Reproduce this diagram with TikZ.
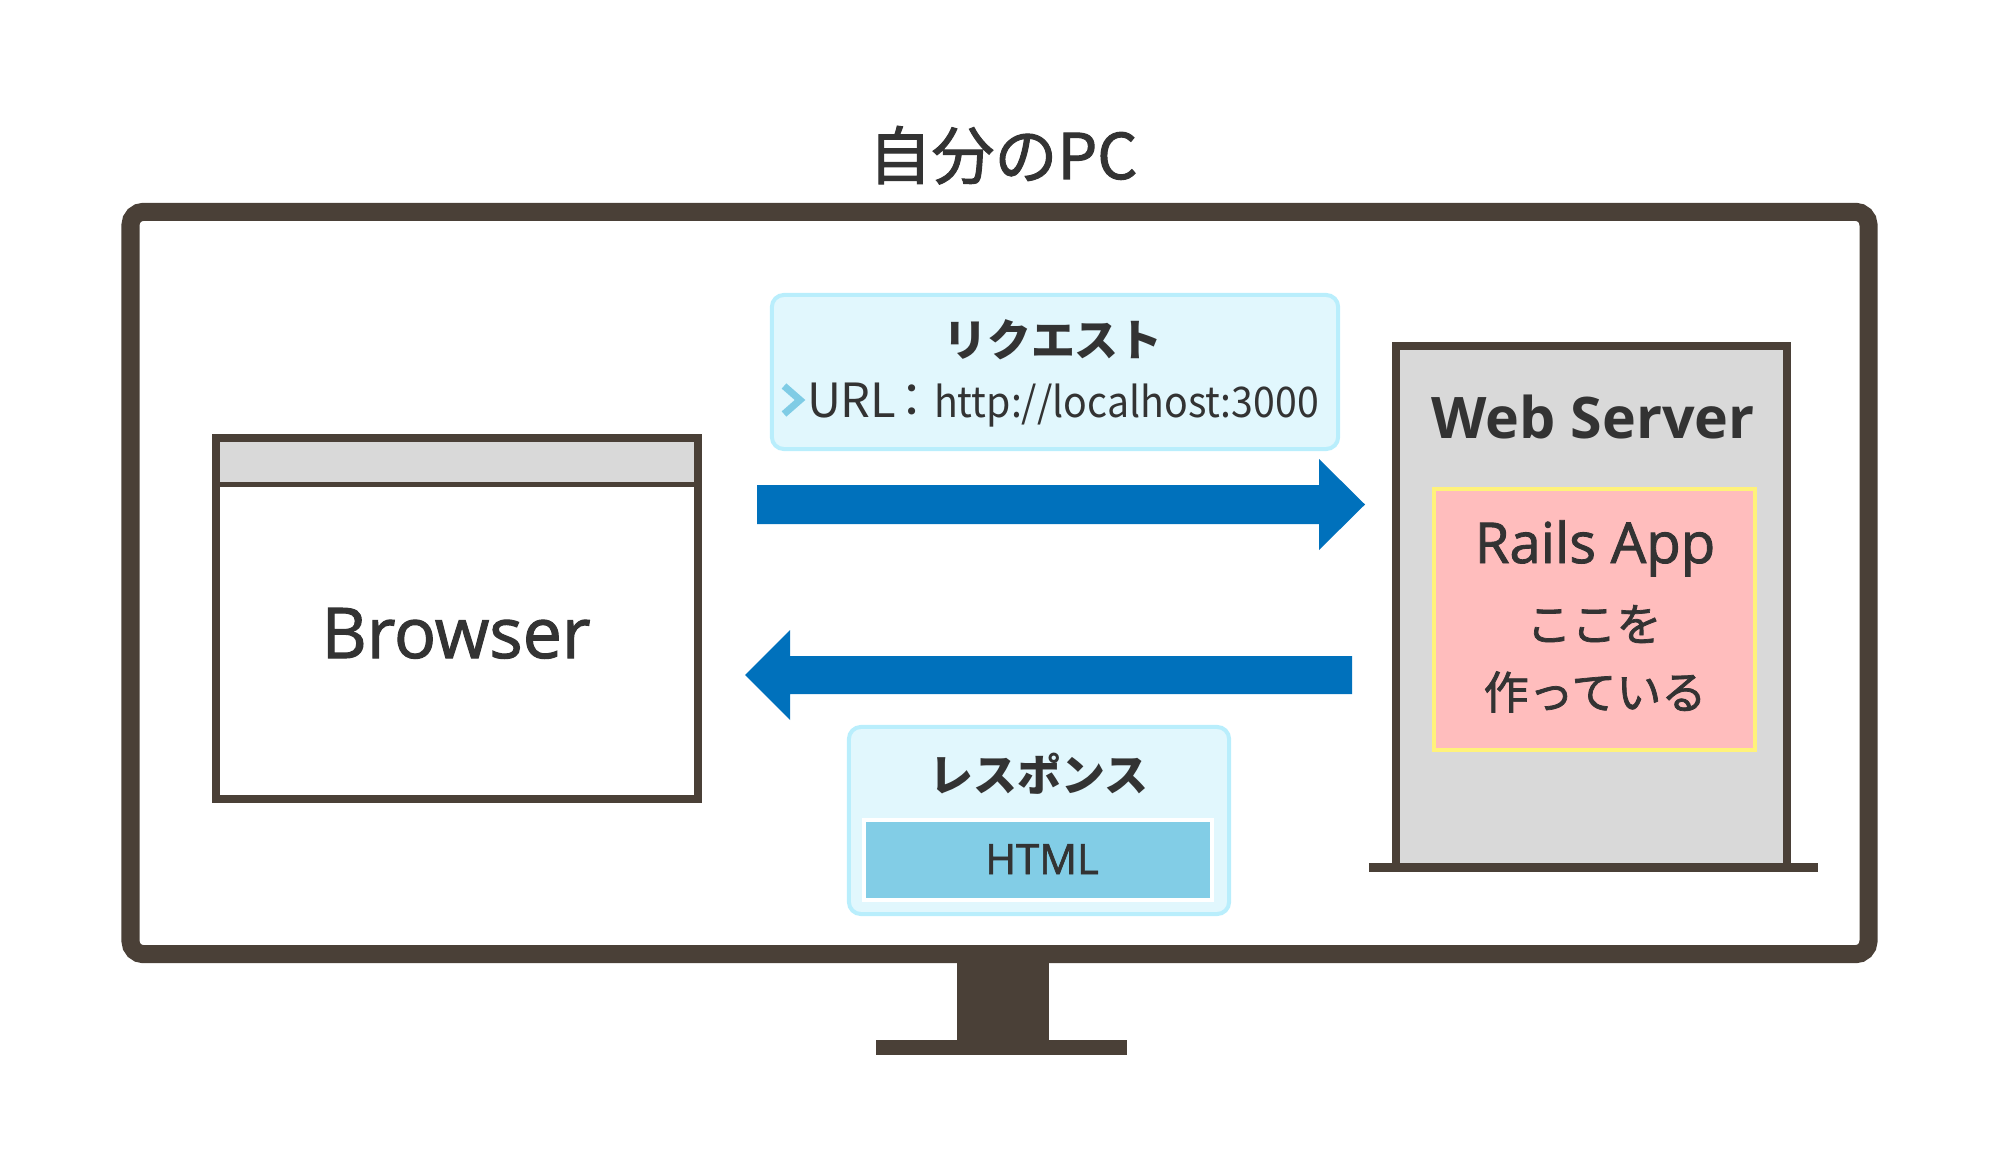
\documentclass[tikz,border=0pt]{standalone}
\usepackage{fontspec}
\setmainfont{Noto Sans CJK JP}
\newfontfamily\jpmedium[FakeBold=1.6]{Noto Sans CJK JP}
\newfontfamily\latinfont[FakeBold=1.6]{Open Sans}
\newfontfamily\latinbold{Open Sans}[BoldFont={* Bold}]
\usetikzlibrary{positioning}

\definecolor{frame}{HTML}{4A4037}
\definecolor{ink}{HTML}{333333}
\definecolor{flow}{HTML}{0071BC}
\definecolor{bubble}{HTML}{E1F7FD}
\definecolor{bubbleline}{HTML}{B9EEFC}
\definecolor{htmlfill}{HTML}{82CDE6}
\definecolor{panel}{HTML}{D9D9D9}
\definecolor{railsfill}{HTML}{FFBDBD}
\definecolor{railsline}{HTML}{FFF27A}
\definecolor{chevron}{HTML}{7FCCE5}

\begin{document}
\begin{tikzpicture}[x=0.01cm,y=-0.01cm,
    every node/.style={text=ink,inner sep=0pt,outer sep=0pt,anchor=base},
    box node/.style={anchor=center,minimum width=#1},
    bubble node/.style={box node=#1,fill=bubble,draw=bubbleline,line width=0.04cm,rounded corners=0.12cm},
    title node/.style={font=\jpmedium\fontsize{17.9pt}{20pt}\selectfont},
    head node/.style={font=\fontsize{12.5pt}{14pt}\selectfont\bfseries},
    jp node/.style={font=\jpmedium\fontsize{12.8pt}{14pt}\selectfont},
    latin node/.style={font=\latinfont\fontsize{#1}{#1}\selectfont},
    bold node/.style={font=\latinbold\fontsize{#1}{#1}\selectfont\bfseries}]

    \useasboundingbox (0,0) rectangle (2000,1173);

    % monitor and stand
    \node[box node=17.37cm,minimum height=7.42cm,draw=frame,line width=0.18cm,rounded corners=0.13cm] (screen) at (999.5,583) {};
    \fill[frame] (957,963) rectangle (1049,1041);
    \fill[frame] (876,1040) rectangle (1127,1055);
    \node[title node] (pctitle) at (1003,179) {自分のPC};

    % browser window
    \coordinate (barline) at (0,484);
    \node[box node=4.82cm,minimum height=3.61cm,fill=white] (browser) at (457,618.5) {};
    \fill[panel] (browser.north west) rectangle (browser.east |- barline);
    \draw[frame,line width=0.05cm] (browser.west |- barline) -- (browser.east |- barline);
    \draw[frame,line width=0.08cm] (browser.north west) rectangle (browser.south east);
    \node[latin node=19.9pt] (browserlabel) at (456,658) {Browser};

    % web server
    \node[box node=3.91cm,minimum height=5.21cm,fill=panel,draw=frame,line width=0.085cm] (server) at (1591.5,606.5) {};
    \draw[frame,line width=0.09cm] ([xshift=-0.27cm]server.south west) -- ([xshift=0.31cm]server.south east);
    \node[bold node=16.3pt] (serverlabel) at (1593,438) {Web Server};
    \node[box node=3.21cm,minimum height=2.61cm,fill=railsfill,draw=railsline,line width=0.04cm] (rails) at (1594.5,619.5) {};
    \node[latin node=16pt] (railslabel) at (1595,563) {Rails App};
    \node[jp node] (here) at (1594,641) {ここを};
    \node[jp node] (making) at (1595,709) {作っている};

    % request
    \node[bubble node=5.66cm,minimum height=1.54cm] (request) at (1055,372) {};
    \node[head node] (reqlabel) at (1053,356) {リクエスト};
    \draw[chevron,line width=0.07cm] (784,386) -- (800,400) -- (784,414);
    \node[anchor=base west,font=\fontsize{13.4pt}{15pt}\selectfont] (url) at (807,417) {URL\kern-2.3pt：\kern-0.4pt\scalebox{0.93}[1]{\fontsize{12pt}{15pt}\selectfont http://localhost:3000}};
    \fill[flow] (757,485) -- (1319,485) -- (1319,459) -- (1365,504.5) -- (1319,550) -- (1319,524) -- (757,524) -- cycle;

    % response
    \fill[flow] (1352,656) -- (790,656) -- (790,630) -- (745,675) -- (790,720) -- (790,694) -- (1352,694) -- cycle;
    \node[bubble node=3.80cm,minimum height=1.87cm] (response) at (1039,820.5) {};
    \node[head node] (reslabel) at (1039,791) {レスポンス};
    \node[box node=3.48cm,minimum height=0.80cm,fill=htmlfill,draw=white,line width=0.045cm] (html) at (1038,860) {};
    \node[latin node=11.9pt] (htmllabel) at (1042,874) {HTML};

\end{tikzpicture}
\end{document}
